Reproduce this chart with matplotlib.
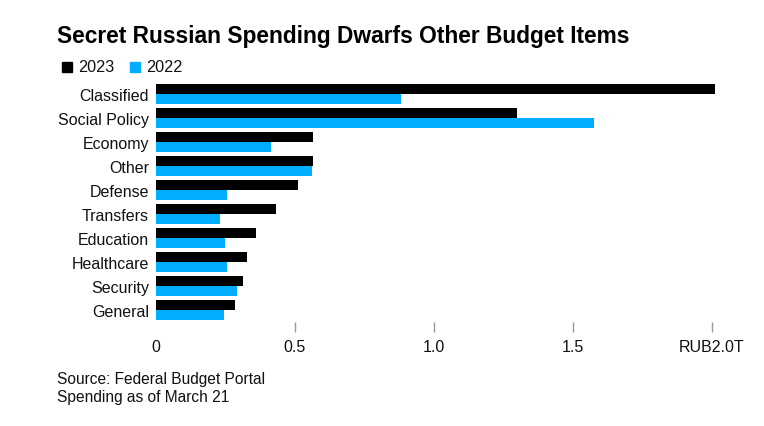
import matplotlib
matplotlib.use("Agg")
import matplotlib.pyplot as plt
import numpy as np

categories = ["Classified", "Social Policy", "Economy", "Other", "Defense",
              "Transfers", "Education", "Healthcare", "Security", "General"]
values_2023 = [2.01, 1.30, 0.565, 0.565, 0.51, 0.432, 0.36, 0.327, 0.313, 0.284]
values_2022 = [0.88, 1.575, 0.412, 0.56, 0.255, 0.23, 0.248, 0.255, 0.291, 0.245]
tick_values = [0, 0.5, 1.0, 1.5, 2.0]
tick_labels = ["0", "0.5", "1.0", "1.5", "RUB2.0T"]

BLACK = "#000000"
BLUE = "#00ADFF"

plt.rcParams['font.family'] = ['Liberation Sans', 'DejaVu Sans']

W, H = 764, 427
fig = plt.figure(figsize=(W / 100, H / 100), dpi=100)

# axes in pixel coords
left, right, top, bottom = 156, 740, 83, 323
ax = fig.add_axes([left / W, 1 - bottom / H, (right - left) / W, (bottom - top) / H])

y = np.arange(len(categories))
bh = 0.41
ax.barh(y - bh / 2, values_2023, height=bh, color=BLACK, linewidth=0)
ax.barh(y + bh / 2, values_2022, height=bh, color=BLUE, linewidth=0)

x_per_unit = 278.0
xmax = (right - left) / x_per_unit
ax.set_xlim(0, xmax)
ax.set_ylim(len(categories) - 0.5, -0.5)

for s in ax.spines.values():
    s.set_visible(False)

ax.set_yticks(y)
ax.set_yticklabels(categories, fontsize=11.5, color="#111111")
ax.tick_params(axis='y', length=0, pad=5)

ax.set_xticks(tick_values)
ax.set_xticklabels(tick_labels, fontsize=11.5, color="#111111")
ax.tick_params(axis='x', direction='out', length=7, width=1, color="#999999", pad=5)
ax.xaxis.get_major_ticks()[0].tick1line.set_visible(False)

fig.text(57 / W, 1 - 36 / H, "Secret Russian Spending Dwarfs Other Budget Items",
         fontsize=16.35, fontweight='bold', ha='left', va='center', color="#000000")

# legend
ly = 1 - 68 / H
fig.patches.append(plt.Rectangle((62 / W, 1 - 73 / H), 10 / W, 10 / H,
                                 transform=fig.transFigure, color=BLACK))
fig.text(78 / W, ly, "2023", fontsize=11.7, ha='left', va='center', color="#111111")
fig.patches.append(plt.Rectangle((130 / W, 1 - 73 / H), 10 / W, 10 / H,
                                 transform=fig.transFigure, color=BLUE))
fig.text(146 / W, ly, "2022", fontsize=11.7, ha='left', va='center', color="#111111")

fig.text(57 / W, 1 - 380 / H, "Source: Federal Budget Portal", fontsize=11.2,
         ha='left', va='center', color="#111111")
fig.text(57 / W, 1 - 398 / H, "Spending as of March 21", fontsize=11.2,
         ha='left', va='center', color="#111111")

fig.savefig("out.png", dpi=100)
